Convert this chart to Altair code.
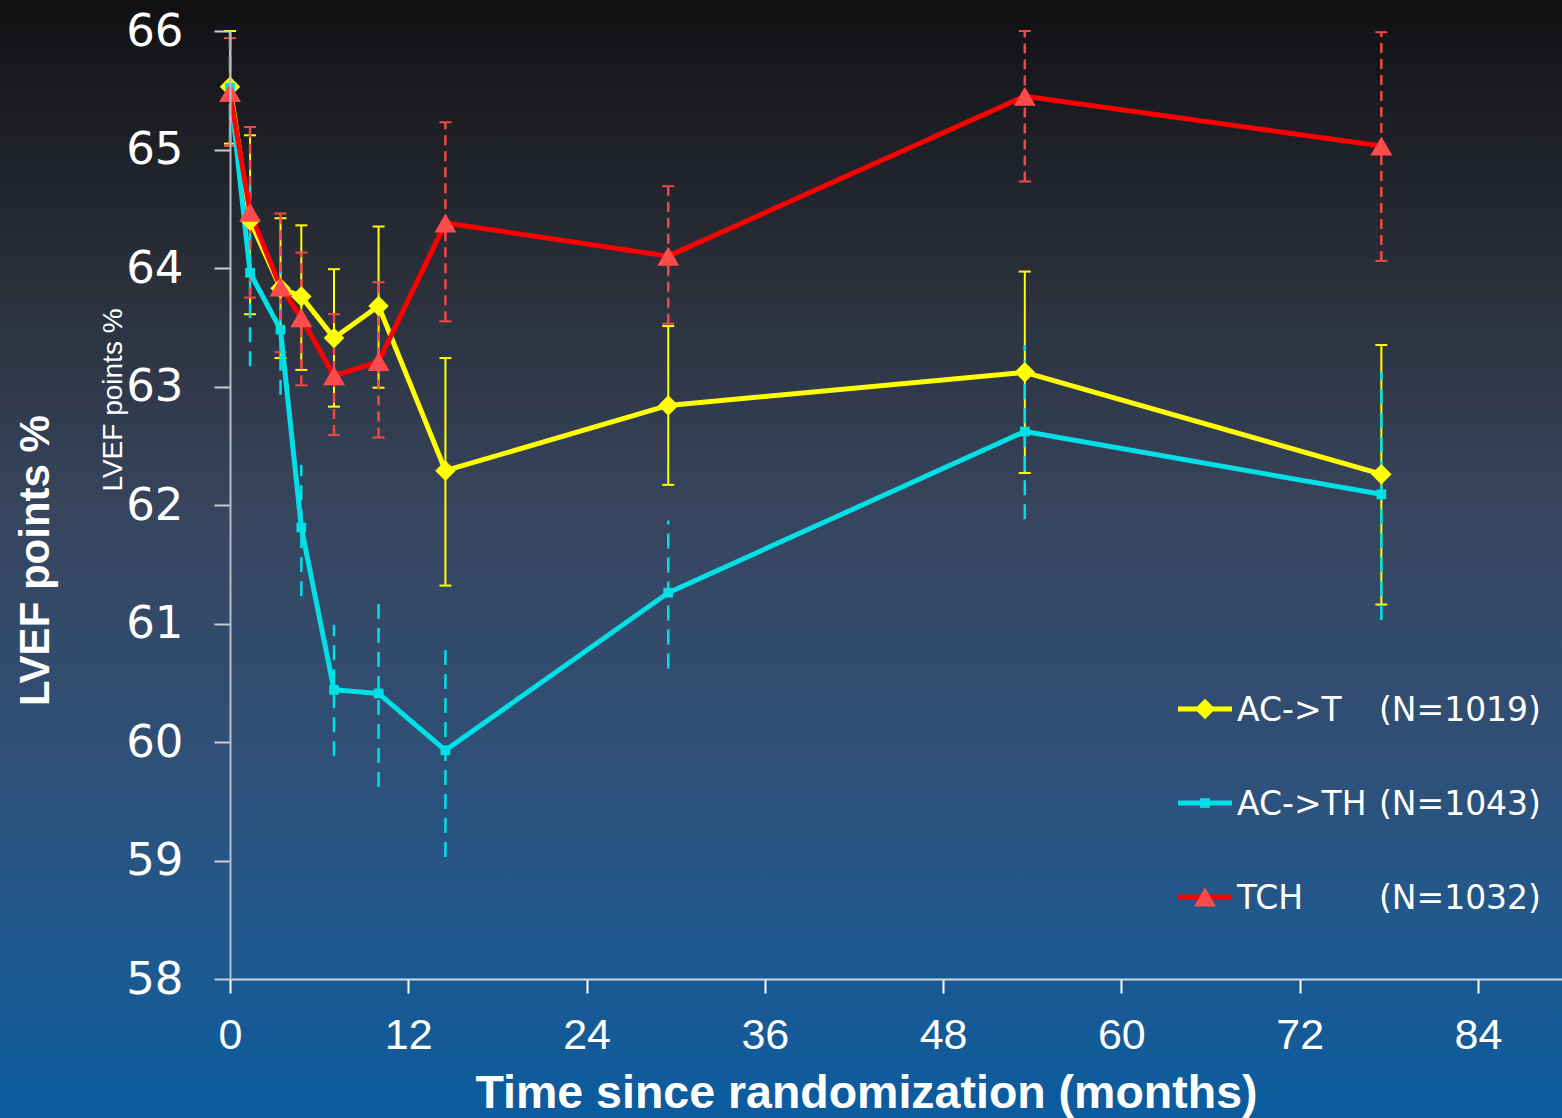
import altair as alt
import pandas as pd

# ---------------- data ----------------
months = [0, 1.35, 3.4, 4.8, 7.0, 10.0, 14.5, 29.5, 53.5, 77.5]

act_mean = [65.53, 64.40, 63.83, 63.76, 63.41, 63.68, 62.29, 62.84, 63.12, 62.26]
act_lo = [65.05, 63.61, 63.24, 63.14, 62.83, 62.99, 61.32, 62.17, 62.27, 61.16]
act_hi = [66.00, 65.12, 64.42, 64.36, 63.99, 64.35, 63.24, 63.51, 63.97, 63.35]

acth_mean = [65.52, 63.96, 63.48, 61.81, 60.44, 60.41, 59.93, 61.26, 62.62, 62.09]
acth_lo = [65.05, 63.17, 62.93, 61.23, 59.88, 59.62, 59.03, 60.62, 61.88, 61.03]
acth_hi = [66.00, 64.75, 64.03, 62.34, 60.99, 61.19, 60.84, 61.87, 63.35, 63.12]

tch_mean = [65.48, 64.47, 63.84, 63.58, 63.09, 63.21, 64.38, 64.10, 65.45, 65.03]
tch_lo = [65.03, 63.75, 63.29, 63.01, 62.59, 62.57, 63.55, 63.53, 64.73, 64.06]
tch_hi = [65.94, 65.19, 64.46, 64.13, 63.61, 63.88, 65.23, 64.69, 66.00, 65.99]

series_names = ["AC->T", "AC->TH", "TCH"]
series_n = ["(N=1019)", "(N=1043)", "(N=1032)"]
x_ticks = [0, 12, 24, 36, 48, 60, 72, 84]
y_ticks = [58, 59, 60, 61, 62, 63, 64, 65, 66]

# ---------------- styling ----------------
W, H = 1332, 948
PAD = {"left": 230, "top": 31, "right": 0, "bottom": 139}

styles = {
    "AC->T": dict(line="#ffff00", marker="#ffff00", err="#ffff00", shape="diamond",
                  size=420, dash=None, caps=True, errw=2),
    "AC->TH": dict(line="#00e0e6", marker="#00e0e6", err="#00e0e6", shape="square",
                   size=95, dash=[15, 9], caps=False, errw=2.5),
    "TCH": dict(line="#ff0000", marker="#ff4b4b", err="#f04848", shape="triangle-up",
                size=480, dash=[10, 6], caps=True, errw=2.5),
}

frames = {
    "AC->T": pd.DataFrame({"month": months, "mean": act_mean, "lo": act_lo, "hi": act_hi}),
    "AC->TH": pd.DataFrame({"month": months, "mean": acth_mean, "lo": acth_lo, "hi": acth_hi}),
    "TCH": pd.DataFrame({"month": months, "mean": tch_mean, "lo": tch_lo, "hi": tch_hi}),
}

xscale = alt.Scale(domain=[0, 89.66], nice=False, zero=False)
yscale = alt.Scale(domain=[58, 66], nice=False, zero=False)

x_axis = alt.Axis(
    values=x_ticks, grid=False, zindex=1, format="d", labelFlush=False,
    title="Time since randomization (months)",
    titleFont="Liberation Sans", titleFontWeight="bold", titleFontSize=46.5,
    titleColor="white", titleX=636, titleY=128, titleBaseline="alphabetic",
    titleAlign="center", titleAnchor="middle",
    labelFont="Liberation Sans Narrow, Liberation Sans, sans-serif", labelFontSize=43,
    labelColor="white", labelPadding=21,
    tickSize=14, tickColor="white", tickWidth=2,
    domainColor="#d4d8e0", domainWidth=2,
)
y_axis = alt.Axis(
    values=y_ticks, grid=False, zindex=1, format="d", labelFlush=False,
    title="LVEF points %",
    titleFont="Liberation Sans", titleFontWeight="bold", titleFontSize=42,
    titleColor="white", titleX=-182, titleY=529, titleAngle=270,
    titleBaseline="alphabetic", titleAlign="center", titleAnchor="middle",
    labelFont="DejaVu Sans", labelFontSize=45, labelColor="white", labelPadding=31,
    tickSize=16, tickColor="#c8ccd4", tickWidth=2,
    domainColor="#b8bcc6", domainWidth=2,
)

# ---------------- background gradient ----------------
bg = alt.Chart(pd.DataFrame({"k": [0]})).mark_rect(
    fill=alt.Gradient(
        gradient="linear", x1=0, x2=0, y1=0, y2=1,
        stops=[
            alt.GradientStop(color="#111113", offset=0),
            alt.GradientStop(color="#2a2e38", offset=0.24),
            alt.GradientStop(color="#37455e", offset=0.46),
            alt.GradientStop(color="#2f5078", offset=0.68),
            alt.GradientStop(color="#20598e", offset=0.84),
            alt.GradientStop(color="#0b5c9f", offset=1),
        ],
    ),
    strokeWidth=0,
).encode(
    x=alt.value(-PAD["left"]), x2=alt.value(W + PAD["right"]),
    y=alt.value(-PAD["top"]), y2=alt.value(H + PAD["bottom"]),
)

layers = [bg]

# error bars
for name in ["AC->T", "AC->TH", "TCH"]:
    st = styles[name]
    df = frames[name]
    base = alt.Chart(df)
    kw = dict(color=st["err"], strokeWidth=st["errw"])
    if st["dash"]:
        kw["strokeDash"] = st["dash"]
    layers.append(base.mark_rule(**kw).encode(
        x=alt.X("month:Q", scale=xscale, axis=x_axis),
        y=alt.Y("lo:Q", scale=yscale, axis=y_axis),
        y2="hi:Q",
    ))
    if st["caps"]:
        for col in ["lo", "hi"]:
            layers.append(base.mark_rule(color=st["err"], strokeWidth=2,
                                         xOffset=-6, x2Offset=6).encode(
                x=alt.X("month:Q", scale=xscale),
                x2="month:Q",
                y=alt.Y(f"{col}:Q", scale=yscale),
            ))

# lines
for name in ["AC->T", "AC->TH", "TCH"]:
    st = styles[name]
    layers.append(alt.Chart(frames[name]).mark_line(
        color=st["line"], strokeWidth=5, strokeJoin="round"
    ).encode(
        x=alt.X("month:Q", scale=xscale),
        y=alt.Y("mean:Q", scale=yscale),
    ))

# markers
for name in ["AC->T", "AC->TH", "TCH"]:
    st = styles[name]
    layers.append(alt.Chart(frames[name]).mark_point(
        shape=st["shape"], filled=True, color=st["marker"], opacity=1,
        size=st["size"], strokeWidth=0,
    ).encode(
        x=alt.X("month:Q", scale=xscale),
        y=alt.Y("mean:Q", scale=yscale),
    ))

# secondary small rotated label
layers.append(alt.Chart(pd.DataFrame({"t": ["LVEF points %"]})).mark_text(
    angle=270, font="Liberation Sans", fontSize=28, color="white",
    align="center", baseline="alphabetic",
).encode(text="t:N", x=alt.value(-108), y=alt.value(369)))

# custom legend
row_y = [678, 772, 866]
for i, name in enumerate(series_names):
    st = styles[name]
    one = alt.Chart(pd.DataFrame({"name": [name], "n": [series_n[i]]}))
    layers.append(one.mark_rule(color=st["line"], strokeWidth=5).encode(
        x=alt.value(948), x2=alt.value(1002), y=alt.value(row_y[i])))
    layers.append(one.mark_point(shape=st["shape"], filled=True, color=st["marker"],
                                 opacity=1, size=st["size"], strokeWidth=0).encode(
        x=alt.value(975), y=alt.value(row_y[i])))
    layers.append(one.mark_text(font="DejaVu Sans", fontSize=33, color="white",
                                align="left", baseline="middle").encode(
        text="name:N", x=alt.value(1007), y=alt.value(row_y[i] + 2)))
    layers.append(one.mark_text(font="DejaVu Sans", fontSize=33, color="white",
                                align="right", baseline="middle").encode(
        text="n:N", x=alt.value(1311), y=alt.value(row_y[i] + 2)))

chart = alt.layer(*layers).properties(
    width=W, height=H,
    padding=PAD,
    autosize=alt.AutoSizeParams(type="none"),
    background="#111113",
).configure_view(stroke=None)

chart.save("out.html", embed_options={"renderer": "svg", "actions": False})
